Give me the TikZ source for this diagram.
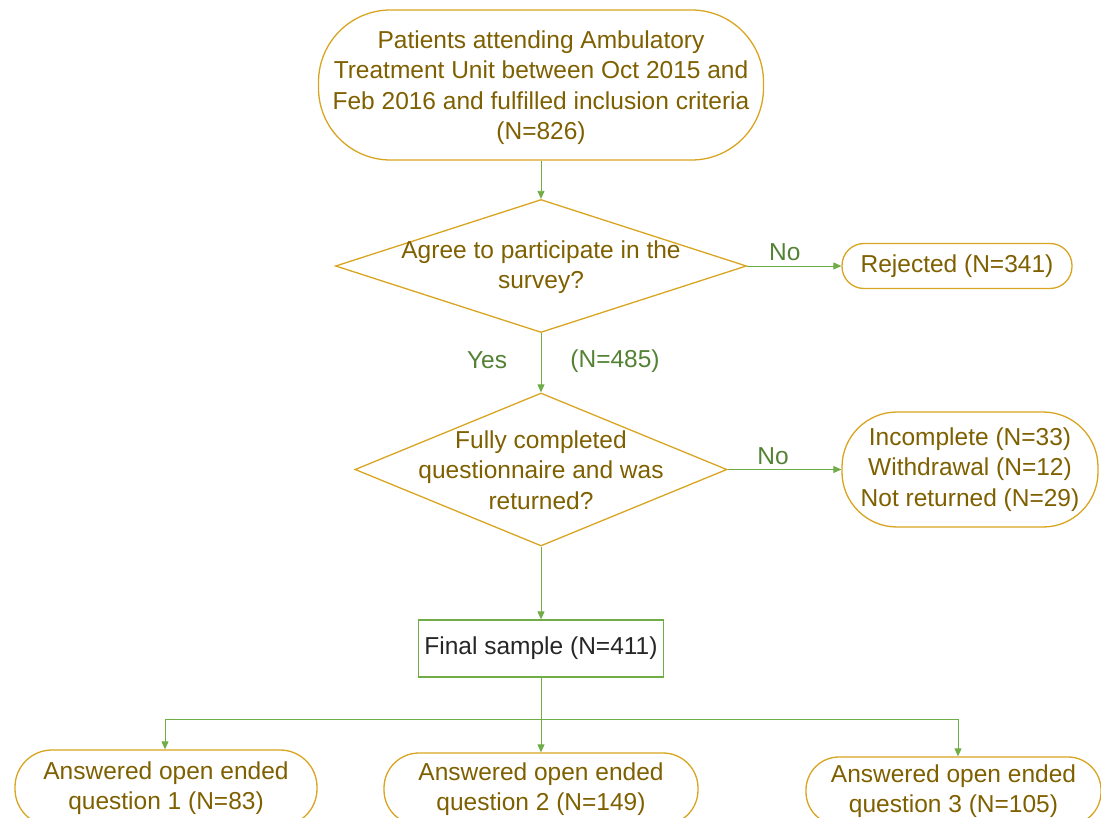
\documentclass[tikz,border=0pt]{standalone}
\usepackage{fontspec}
\setmainfont{Liberation Sans}
\usetikzlibrary{shapes.geometric,arrows.meta}
\definecolor{gold}{HTML}{D9A521}
\definecolor{brown}{HTML}{7F6000}
\definecolor{lgreen}{HTML}{70AD47}
\definecolor{dgreen}{HTML}{548235}
\tikzset{
  txt/.style={font=\fontsize{24.5}{30.5}\selectfont, text=brown, align=center},
  stad/.style={draw=gold, line width=1.3pt, fill=white, txt, inner sep=0pt},
  dia/.style={draw=gold, line width=1.3pt, diamond, inner sep=0pt},
  conn/.style={draw=lgreen, line width=0.9pt, -{Triangle[length=8pt,width=7pt]}},
  plain/.style={draw=lgreen, line width=0.9pt},
  lbl/.style={font=\fontsize{24.5}{28}\selectfont, text=dgreen},
}
\begin{document}
\begin{tikzpicture}[x=1pt,y=-1pt]
\useasboundingbox (0,0) rectangle (1101,818);
\begin{scope}
\clip (0,0) rectangle (1101,818);
% top
\node[stad, minimum width=445, minimum height=150, rounded corners=72] (top) at (541,85) {};
\node[txt] (topt) at (541,87.5)
  {Patients attending Ambulatory\\Treatment Unit between Oct 2015 and\\Feb 2016 and fulfilled inclusion criteria\\(N=826)};
% diamond 1
\node[dia, minimum width=411, minimum height=133] (d1) at (541,266) {};
\node[txt] (d1t) at (541,267) {Agree to participate in the\\survey?};
% rejected
\node[stad, minimum width=230, minimum height=45, rounded corners=22] (rej) at (957,266) {Rejected (N=341)};
% diamond 2
\node[dia, minimum width=372, minimum height=153] (d2) at (541,469.5) {};
\node[txt] (d2t) at (541,470) {Fully completed\\questionnaire and was\\returned?};
% incomplete
\node[stad, minimum width=256, minimum height=115, rounded corners=55] (inc) at (970,469.5)
  {Incomplete (N=33)\\Withdrawal (N=12)\\Not returned (N=29)};
% final
\node[draw=lgreen, line width=1.3pt, minimum width=245, minimum height=57, inner sep=0pt,
  font=\fontsize{24.5}{28}\selectfont, text=black!85] (fin) at (541,648.5) {Final sample (N=411)};
% bottom boxes
\node[stad, minimum width=302, minimum height=76, rounded corners=37] (q1) at (166,788)
  {Answered open ended\\question 1 (N=83)};
\node[stad, minimum width=314, minimum height=72, rounded corners=35] (q2) at (541,789)
  {Answered open ended\\question 2 (N=149)};
\node[stad, minimum width=295, minimum height=68, rounded corners=33] (q3) at (953.5,791)
  {Answered open ended\\question 3 (N=105)};
\end{scope}
% connectors
\draw[conn] (top.south) -- (d1.north);
\draw[conn] (d1.east) -- node[lbl, above=1pt, pos=0.4] {No} (rej.west);
\draw[conn] (d1.south) -- (d2.north);
\node[lbl] (yes) at (487,360) {Yes};
\node[lbl] (n485) at (615,361) {(N=485)};
\draw[conn] (d2.east) -- node[lbl, above=1pt, pos=0.4] {No} (inc.west);
\draw[conn] (d2.south) -- (fin.north);
\draw[conn] (fin.south) -- (q2.north);
\coordinate (hl) at (165,719);
\coordinate (hr) at (958,719);
\draw[plain] (hl) -- (hr);
\draw[conn] (hl) -- (q1.north -| hl);
\draw[conn] (hr) -- (q3.north -| hr);
\end{tikzpicture}
\end{document}
